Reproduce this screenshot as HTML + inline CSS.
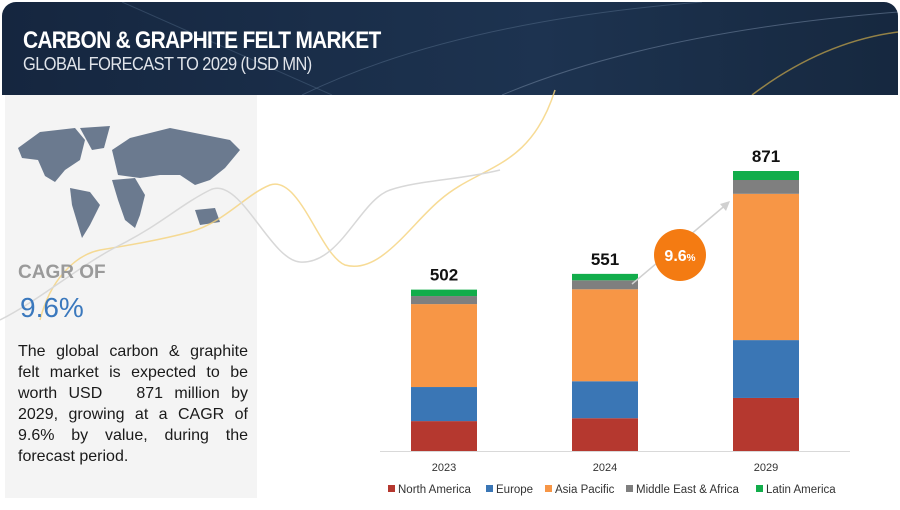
<!DOCTYPE html>
<html><head><meta charset="utf-8"><style>
body{margin:0;width:900px;height:510px;background:#fff;font-family:"Liberation Sans",sans-serif;overflow:hidden;position:relative}
.hdr{position:absolute;left:2px;top:2px;width:896px;height:93px;background:linear-gradient(90deg,#15263f,#1d3350 60%,#16283f);border-radius:14px 14px 0 0;overflow:hidden}
.t1{position:absolute;left:21px;top:25px;color:#fff;font-weight:bold;font-size:24px;letter-spacing:-0.8px;transform:scaleX(.87);transform-origin:left}
.t2{position:absolute;left:21px;top:52px;color:#e0e4ea;font-size:18px;letter-spacing:-0.6px;transform:scaleX(.91);transform-origin:left}
.lp{position:absolute;left:5px;top:95px;width:252px;height:403px;background:#f4f4f4}
.cagr{position:absolute;left:18px;top:262px;color:#9a9a9a;font-weight:bold;font-size:19px}
.pct{position:absolute;left:20px;top:292px;color:#3a78bd;font-size:28px}
.desc{position:absolute;left:18px;top:341px;width:230px;font-size:16px;line-height:21px;color:#1a1a1a;text-align:justify;text-align-last:left}
</style></head><body>
<div class="hdr">
<svg width="896" height="93" style="position:absolute;left:0;top:0">
<path d="M300,93 Q450,20 700,0" stroke="#4c6480" stroke-width="1" fill="none" opacity=".6"/>
<path d="M500,93 Q650,30 896,10" stroke="#6a7f99" stroke-width="1" fill="none" opacity=".6"/>
<path d="M750,93 Q820,40 896,30" stroke="#c9a84a" stroke-width="1.5" fill="none" opacity=".7"/>
<path d="M120,0 L330,93" stroke="#4c6480" stroke-width="1" opacity=".5"/>
</svg>
<div class="t1">CARBON &amp; GRAPHITE FELT MARKET</div>
<div class="t2">GLOBAL FORECAST TO 2029 (USD MN)</div>
</div>
<div class="lp"></div>
<svg width="900" height="510" style="position:absolute;left:0;top:0">
<g fill="#6b7a8f">
<path d="M18,148 L40,132 L75,128 L85,140 L80,160 L65,170 L55,182 L45,176 L38,160 L22,158Z"/>
<path d="M80,128 L110,126 L104,148 L92,150Z"/>
<path d="M70,188 L90,192 L100,205 L90,225 L82,238 L78,225 L72,205Z"/>
<path d="M112,180 L135,178 L145,195 L140,215 L135,228 L125,220 L118,200Z"/>
<path d="M112,150 L130,138 L170,128 L230,140 L240,150 L225,168 L210,180 L195,185 L180,175 L160,175 L140,178 L118,175Z"/>
<path d="M195,210 L215,208 L220,222 L200,225Z"/>
</g>
<path d="M40,320 C50,280 75,255 100,250 C130,245 160,240 190,232 C225,222 245,195 270,185 C300,175 320,255 345,265 C380,275 410,225 440,200 C480,165 530,170 555,90" stroke="#f5d27a" stroke-width="1.5" fill="none" opacity=".8"/>
<path d="M0,320 C40,300 80,265 120,245 C160,225 180,205 210,190 C240,175 270,260 300,262 C340,265 360,200 390,190 C420,180 460,180 500,170" stroke="#d8d8d8" stroke-width="1.5" fill="none"/>
</svg>
<div class="cagr">CAGR OF</div>
<div class="pct">9.6%</div>
<div class="desc">The global carbon &amp; graphite felt market is expected to be worth USD &nbsp;&nbsp;871 million by 2029, growing at a CAGR of 9.6% by value, during the forecast period.</div>
<svg id="chart" width="900" height="510" style="position:absolute;left:0;top:0"></svg>
<script>
const years=["2023","2024","2029"];
const northAmerica=[93,102,165];
const europe=[106,115,180];
const asiaPacific=[258,286,455];
const middleEast=[25,28,43];
const latinAmerica=[20,20,28];
const totals=[502,551,871];
const seriesNames=["North America","Europe","Asia Pacific","Middle East & Africa","Latin America"];
const series=[northAmerica,europe,asiaPacific,middleEast,latinAmerica];
const colors=["#b5382f","#3a76b5","#f79646","#7f7f7f","#12ad4b"];
const NS="http://www.w3.org/2000/svg";
const svg=document.getElementById('chart');
const base=451,scale=280/871,bw=66;
const xs=i=>[444,605,766][i];
const y=v=>base-v*scale;
function mk(t,a){const e=document.createElementNS(NS,t);for(const k in a)e.setAttribute(k,a[k]);svg.appendChild(e);return e;}
let ax=mk('line',{x1:380,x2:850,y1:base+0.5,y2:base+0.5,stroke:'#d9d9d9'});


years.forEach((yr,i)=>{
 let cum=0;
 series.forEach((s,j)=>{
  const r=mk('rect',{x:xs(i)-bw/2,y:y(cum+s[i]),width:bw,height:s[i]*scale,fill:colors[j]});
  
  
  cum+=s[i];
 });
 const t=mk('text',{x:xs(i),y:y(cum)-9,'text-anchor':'middle','font-size':17,'font-weight':'bold',fill:'#111'});
 t.textContent=totals[i];
 
 
 const l=mk('text',{x:xs(i),y:471,'text-anchor':'middle','font-size':11,fill:'#333'});
 l.textContent=yr;
 
 
});
const ar=mk('path',{d:'M632,284 L728,203',stroke:'#d0d0d0','stroke-width':1.5,fill:'none'});


const ah=mk('path',{d:'M730,201 L720,204 L726,211Z',fill:'#d0d0d0'});


const c=mk('circle',{cx:680,cy:255,r:26,fill:'#f47b12'});


const ct=mk('text',{x:680,y:261,'text-anchor':'middle','font-size':16,'font-weight':'bold',fill:'#fff'});
ct.innerHTML='9.6<tspan font-size="10">%</tspan>';


const lx=[388,486,545,626,756];
seriesNames.forEach((n,j)=>{
 const g=document.createElementNS(NS,'g');svg.appendChild(g);
 
 
 const r=document.createElementNS(NS,'rect');
 r.setAttribute('x',lx[j]);r.setAttribute('y',485);r.setAttribute('width',7);r.setAttribute('height',7);r.setAttribute('fill',colors[j]);g.appendChild(r);
 const t=document.createElementNS(NS,'text');
 t.setAttribute('x',lx[j]+10);t.setAttribute('y',493);t.setAttribute('font-size',11.5);t.setAttribute('fill','#333');t.textContent=n;g.appendChild(t);
});
</script>
</body></html>
